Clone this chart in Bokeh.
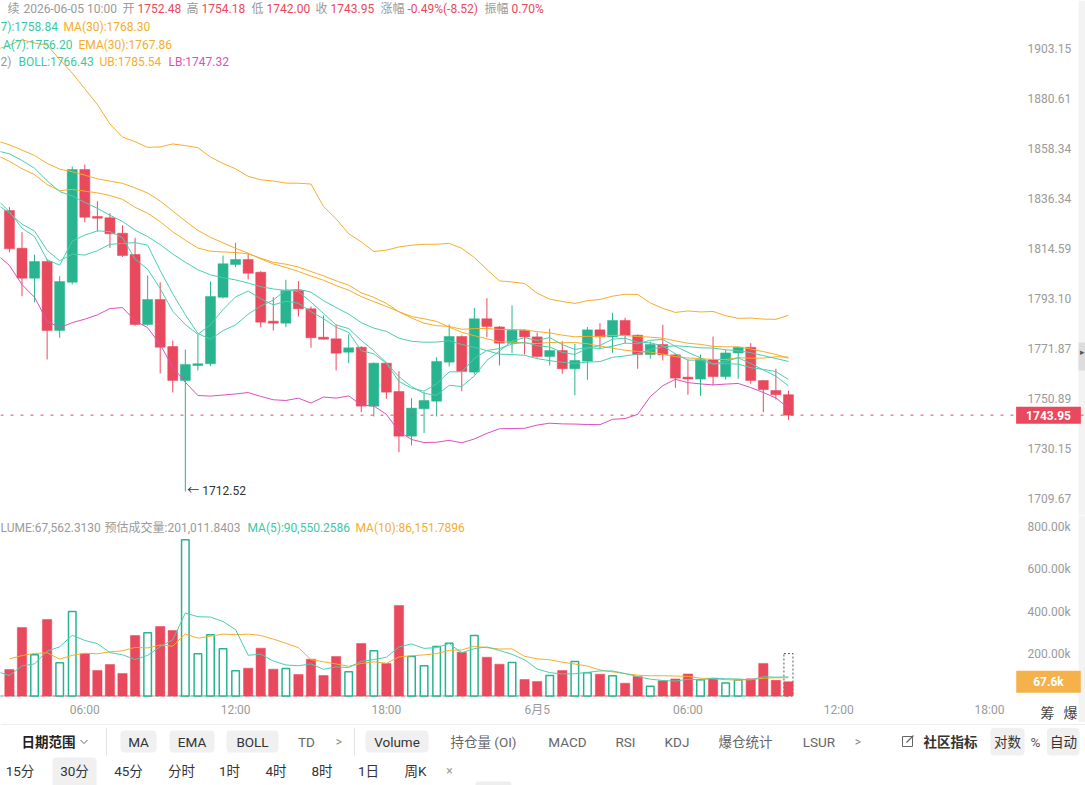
import numpy as np
import pandas as pd
from bokeh.plotting import figure
from bokeh.layouts import column
from bokeh.models import (Range1d, FixedTicker, NumeralTickFormatter, Label, Span,
                          ColumnDataSource, BoxAnnotation)
from bokeh.core.properties import value
from bokeh.embed import file_html
from bokeh.resources import INLINE

# ---------------------------------------------------------------- data
# ETH perpetual, 30-minute bars from 2026-06-04 03:00 to 2026-06-05 10:00
opens = [1831.12, 1814.72, 1801.83, 1809.00, 1779.51, 1800.11, 1849.10, 1828.51, 1827.94, 1821.24,
         1812.01, 1782.06, 1792.68, 1772.72, 1758.44, 1764.74, 1765.45, 1793.65, 1807.71, 1809.86,
         1804.40, 1783.46, 1782.61, 1796.54, 1788.73, 1776.66, 1775.98, 1770.32, 1772.42, 1747.70,
         1765.70, 1753.83, 1735.25, 1746.62, 1749.77, 1766.12, 1776.96, 1761.93, 1784.48, 1781.00,
         1774.13, 1779.62, 1776.79, 1768.51, 1771.03, 1763.35, 1766.54, 1779.77, 1776.78, 1783.76,
         1777.50, 1769.35, 1773.57, 1769.22, 1759.83, 1759.02, 1767.13, 1760.05, 1770.00, 1772.40,
         1758.40, 1754.25, 1752.48]
highs = [1832.56, 1821.68, 1812.01, 1810.00, 1802.68, 1850.42, 1851.30, 1835.17, 1829.95, 1824.60,
         1819.24, 1802.99, 1800.11, 1775.27, 1771.45, 1777.81, 1800.41, 1811.58, 1817.07, 1812.31,
         1804.80, 1793.65, 1801.14, 1800.54, 1789.70, 1785.88, 1782.06, 1777.81, 1772.80, 1766.00,
         1766.00, 1762.35, 1751.02, 1753.53, 1768.22, 1782.06, 1777.40, 1789.15, 1793.23, 1781.40,
         1790.13, 1780.02, 1778.62, 1780.23, 1774.97, 1773.86, 1781.00, 1782.61, 1787.03, 1784.91,
         1777.80, 1774.80, 1781.94, 1769.60, 1767.25, 1769.35, 1776.92, 1771.32, 1772.72, 1774.12,
         1758.60, 1763.35, 1754.18]
lows = [1813.00, 1794.09, 1791.53, 1767.25, 1776.41, 1799.12, 1826.03, 1821.99, 1814.89, 1811.00,
        1781.50, 1781.50, 1761.38, 1753.41, 1712.52, 1762.64, 1764.50, 1793.20, 1806.55, 1801.27,
        1780.91, 1779.51, 1780.91, 1785.46, 1772.17, 1775.70, 1762.64, 1765.70, 1745.21, 1743.42,
        1750.77, 1728.63, 1731.39, 1736.50, 1743.42, 1764.32, 1753.95, 1760.96, 1776.66, 1764.74,
        1769.90, 1769.35, 1767.97, 1764.74, 1761.25, 1752.25, 1758.74, 1771.74, 1770.07, 1773.95,
        1763.35, 1767.55, 1766.84, 1755.38, 1752.44, 1752.02, 1756.42, 1758.80, 1759.16, 1757.06,
        1745.21, 1750.48, 1742.00]
closes = [1814.46, 1801.83, 1809.00, 1779.51, 1800.41, 1849.10, 1828.21, 1827.77, 1820.98, 1811.58,
          1782.06, 1792.68, 1772.42, 1758.44, 1765.16, 1765.45, 1793.96, 1808.01, 1809.86, 1803.97,
          1783.04, 1782.61, 1796.54, 1788.73, 1776.41, 1775.81, 1769.90, 1772.17, 1747.70, 1765.70,
          1753.53, 1735.25, 1746.87, 1750.06, 1766.42, 1776.96, 1762.22, 1784.48, 1781.19, 1774.13,
          1779.62, 1776.79, 1768.51, 1771.03, 1763.35, 1766.84, 1779.77, 1776.78, 1783.76, 1777.50,
          1769.35, 1773.57, 1769.22, 1759.41, 1759.02, 1767.13, 1760.05, 1770.00, 1772.40, 1758.40,
          1754.60, 1752.48, 1743.95]
volumes = [125600, 324600, 195200, 362500, 157300, 400400, 200000, 120800, 149300, 106600,
           286700, 299500, 329400, 310400, 740200, 200000, 290000, 223700, 119400, 131700,
           226500, 127000, 130300, 101900, 174400, 97100, 187200, 114700, 248800, 214200,
           154000, 428900, 187200, 143100, 234600, 250200, 207600, 286700, 183900, 150700,
           158800, 78200, 68700, 97100, 120800, 163500, 109900, 103300, 95700, 60700,
           92400, 46400, 72000, 80900, 104600, 77600, 84400, 61267, 75300, 81200,
           154600, 74089, 67562.313]
estimated_volume = 201011.8403

# bars just before the window, needed to warm up the moving averages
earlier_closes = [1868, 1872, 1880, 1885, 1876, 1883, 1874, 1876, 1852, 1840,
                  1842, 1860, 1878, 1890, 1895, 1888, 1884, 1880, 1881, 1866,
                  1858, 1848, 1842, 1840, 1836, 1830, 1838, 1832, 1829, 1831]
earlier_volumes = [164600, 95000, 330000, 460000, 223000, 95000, 150000, 60000, 54500]

price_ticks = [1709.67, 1730.15, 1750.89, 1771.87, 1793.10, 1814.59, 1836.34, 1858.34, 1880.61, 1903.15]
volume_ticks = [200000, 400000, 600000, 800000]
time_ticks = [6, 12, 18, 24, 30, 36, 42]
time_labels = ["06:00", "12:00", "18:00", "6月5", "06:00", "12:00", "18:00"]

# ---------------------------------------------------------------- style
RED = "#E9495C"
GREEN = "#28B48F"
TEAL = "#4CCDB0"
TEAL_TXT = "#3CC8A5"
ORANGE = "#F5AD2A"
PINK = "#DD4FBE"
GRAY = "#9A9A9A"
DARK = "#333333"
CHIP = "#F0F0F0"
FONT = "Roboto, Noto Sans CJK SC, sans-serif"

W = 1085
H_PRICE, H_VOL, H_BAR = 515, 207, 63
PX_PER_HOUR = 25.13
LABEL_X = 1027          # left edge of the price / volume scale labels
TAG_X = 1048            # centre of the last-value tags

# ---------------------------------------------------------------- derived series
t0 = pd.Timestamp("2026-06-04 00:00")
bar_times = pd.date_range("2026-06-04 03:00", periods=len(closes), freq="30min")
early_times = pd.date_range(end=bar_times[0] - pd.Timedelta(minutes=30),
                            periods=len(earlier_closes), freq="30min")
hours = np.asarray((bar_times - t0) / pd.Timedelta(hours=1), dtype=float)
early_hours = np.asarray((early_times - t0) / pd.Timedelta(hours=1), dtype=float)
all_hours = np.concatenate([early_hours, hours])

c_all = pd.Series(earlier_closes + closes, dtype=float)
ma7 = c_all.rolling(7).mean()
ma30 = c_all.rolling(30).mean()
ema7 = c_all.ewm(span=7, adjust=False).mean()
ema30 = c_all.ewm(span=30, adjust=False).mean()
boll = c_all.rolling(20).mean()
sd = c_all.rolling(20).std(ddof=0)
ub = boll + 2 * sd
lb = boll - 2 * sd

v_all = pd.Series(earlier_volumes + volumes, dtype=float)
v_hours = all_hours[-len(v_all):]
vma5 = v_all.rolling(5).mean()
vma10 = v_all.rolling(10).mean()

o = np.array(opens); c = np.array(closes)
up = c >= o
candles = ColumnDataSource(dict(
    t=hours, high=highs, low=lows,
    top=np.maximum(o, c), bottom=np.minimum(o, c),
    color=[GREEN if u else RED for u in up],
))
vol_up = ColumnDataSource(dict(t=hours[up], v=np.array(volumes)[up]))
vol_dn = ColumnDataSource(dict(t=hours[~up], v=np.array(volumes)[~up]))

x_start = 2.645
x_range = Range1d(x_start, x_start + W / PX_PER_HOUR)


def label(fig, x, y, text, color, size="12px", bold=False, align="left", **kw):
    fig.add_layout(Label(x=x, y=y, x_units="screen", y_units="screen", text=text,
                         text_color=color, text_font=FONT, text_font_size=size,
                         text_font_style="bold" if bold else "normal",
                         text_align=align, text_baseline="middle", **kw))


def style_scale(axis):
    axis.axis_line_color = None
    axis.major_tick_line_color = None
    axis.minor_tick_line_color = None
    axis.major_tick_out = 0
    axis.major_tick_in = 0
    axis.minor_tick_out = 0
    axis.minor_tick_in = 0
    axis.major_label_text_color = GRAY
    axis.major_label_text_font = FONT
    axis.major_label_text_font_size = "12px"


def edge_strip(fig):
    fig.add_layout(BoxAnnotation(left=W - 7, right=W, left_units="screen", right_units="screen",
                                 fill_color="#F3F3F3", fill_alpha=1, line_color=None))


# ---------------------------------------------------------------- price panel
pp = figure(width=W, height=H_PRICE, x_range=x_range, y_range=Range1d(1702.74, 1925.11),
            y_axis_type="log", y_axis_location="right", x_axis_location=None,
            toolbar_location=None, output_backend="svg", min_border=0,
            outline_line_color=None, background_fill_color="white", border_fill_color="white")
pp.grid.visible = False
ya = pp.yaxis[0]
ya.ticker = FixedTicker(ticks=price_ticks)
ya.formatter = NumeralTickFormatter(format="0.00")
style_scale(ya)
ya.major_label_standoff = LABEL_X - W   # scale labels sit over the right margin of the pane

edge_strip(pp)
pp.add_layout(BoxAnnotation(left=W - 7, right=W, left_units="screen", right_units="screen",
                            top=H_PRICE - 342, bottom=H_PRICE - 370,
                            top_units="screen", bottom_units="screen",
                            fill_color="#DDDDDD", fill_alpha=1, line_color=None))
label(pp, W - 3.5, H_PRICE - 351, "▸", "#555555", size="9px", align="center")

pp.add_layout(Span(location=closes[-1], dimension="width", line_color=RED,
                   line_dash="3 7", line_width=1))

pp.segment(x0="t", y0="high", x1="t", y1="low", color="color", line_width=1, source=candles)
pp.vbar(x="t", top="top", bottom="bottom", width=0.4, fill_color="color",
        line_color="color", line_width=0.5, source=candles)

for series, col in [(ub, ORANGE), (lb, PINK), (ma30, ORANGE), (ema30, ORANGE),
                    (boll, TEAL), (ma7, TEAL), (ema7, TEAL)]:
    pp.line(all_hours, series.to_numpy(), line_color=col, line_width=1)

low_i = int(np.argmin(lows))
pp.add_layout(Label(x=hours[low_i], y=lows[low_i], x_offset=2, text=f"← {lows[low_i]:.2f}",
                    text_color=DARK, text_font=FONT, text_font_size="12px",
                    text_baseline="middle", text_align="left"))

# last price tag on the scale
pp.add_layout(Label(x=TAG_X, x_units="screen", y=closes[-1], y_units="data",
                    text=f"{closes[-1]:.2f}", text_color="white", text_font=FONT,
                    text_font_size="12px", text_font_style="bold", text_align="center",
                    text_baseline="middle", background_fill_color=RED, padding=(10, 4)))

# header lines
hdr = H_PRICE
label(pp, 7, hdr - 8, "续", GRAY)
label(pp, 23, hdr - 8, "2026-06-05 10:00", GRAY)
for x, txt, col in [(122, "开", GRAY), (137, f"{opens[-1]:.2f}", RED),
                    (186, "高", GRAY), (201, f"{highs[-1]:.2f}", RED),
                    (251, "低", GRAY), (266, f"{lows[-1]:.2f}", RED),
                    (315, "收", GRAY), (330, f"{closes[-1]:.2f}", RED),
                    (380, "涨幅", GRAY), (407, "-0.49%(-8.52)", RED),
                    (484, "振幅", GRAY), (511, "0.70%", RED)]:
    label(pp, x, hdr - 8, txt, col)
label(pp, 0, hdr - 26, "7):1758.84", TEAL_TXT)
label(pp, 63, hdr - 26, "MA(30):1768.30", ORANGE)
label(pp, 2.5, hdr - 44, "A(7):1756.20", TEAL_TXT)
label(pp, 78, hdr - 44, "EMA(30):1767.86", ORANGE)
label(pp, 0, hdr - 61, "2)", GRAY)
label(pp, 18, hdr - 61, "BOLL:1766.43", TEAL_TXT)
label(pp, 99, hdr - 61, "UB:1785.54", ORANGE)
label(pp, 168, hdr - 61, "LB:1747.32", PINK)

# ---------------------------------------------------------------- volume panel
# zero volume sits 26.5 px above the pane bottom, 4739 per pixel
pv = figure(width=W, height=H_VOL, x_range=x_range, y_range=Range1d(-125584, 855390),
            y_axis_location="right", toolbar_location=None, output_backend="svg",
            min_border=0, outline_line_color=None,
            background_fill_color="white", border_fill_color="white")
pv.grid.visible = False
va = pv.yaxis[0]
va.ticker = FixedTicker(ticks=volume_ticks)
va.formatter = NumeralTickFormatter(format="0.00a")
style_scale(va)
va.major_label_standoff = LABEL_X - W
xa = pv.xaxis[0]
xa.ticker = FixedTicker(ticks=time_ticks)
xa.major_label_overrides = dict(zip(time_ticks, time_labels))
style_scale(xa)
xa.major_label_standoff = -20   # time labels sit in the bottom strip of the pane

edge_strip(pv)

# zero line of the volume pane
pv.line([all_hours[0], hours[-1]], [0, 0], line_color=RED, line_dash="5 7", line_width=1)
pv.line([all_hours[0], hours[-1]], [0, 0], line_color=GREEN, line_dash="5 7",
        line_dash_offset=6, line_width=1)

pv.vbar(x=[hours[-1]], top=[estimated_volume], bottom=0, width=0.36, fill_color=None,
        line_color="#555555", line_dash="2 2", line_width=1)
pv.vbar(x="t", top="v", bottom=0, width=0.37, fill_color=RED, line_color=RED,
        line_width=0.5, source=vol_dn)
pv.vbar(x="t", top="v", bottom=0, width=0.30, fill_color="white", line_color=GREEN,
        line_width=1.5, source=vol_up)
pv.line(v_hours, vma10.to_numpy(), line_color=ORANGE, line_width=1)
pv.line(v_hours, vma5.to_numpy(), line_color=TEAL, line_width=1)

pv.add_layout(Label(x=TAG_X, x_units="screen", y=volumes[-1], y_units="data",
                    text=f"{volumes[-1] / 1000:.1f}k", text_color="white", text_font=FONT,
                    text_font_size="12px", text_font_style="bold", text_align="center",
                    text_baseline="middle", background_fill_color="#F5B24B", padding=(17, 4)))

vtop = H_VOL
label(pv, 0, vtop - 12, f"LUME:{volumes[-1]:,.4f}", GRAY)
label(pv, 104, vtop - 12, f"预估成交量:{estimated_volume:,.4f}", GRAY)
label(pv, 247, vtop - 12, "MA(5):90,550.2586", TEAL_TXT)
label(pv, 355, vtop - 12, "MA(10):86,151.7896", ORANGE)
label(pv, 1047, 10, "筹", "#444444", size="14px", align="center")
label(pv, 1070, 10, "爆", "#444444", size="14px", align="center")

# ---------------------------------------------------------------- indicator bar
ROW1, ROW2 = 741, 770.5
pt = figure(width=W, height=H_BAR, x_range=Range1d(0, W), y_range=Range1d(785, 722),
            x_axis_location=None, y_axis_location=None, toolbar_location=None,
            output_backend="svg", min_border=0, outline_line_color=None,
            background_fill_color="white", border_fill_color="white")
pt.grid.visible = False
pt.segment(x0=[0], y0=[724], x1=[W], y1=[724], line_color="#EDEDED", line_width=1)
pt.segment(x0=[106, 354], y0=[727, 727], x1=[106, 354], y1=[755, 755],
           line_color="#E3E3E3", line_width=1)
pt.quad(left=[120, 169, 226, 365, 990, 1046.5, 52], right=[156, 214, 278, 428, 1024, 1079, 96],
        top=[730, 730, 730, 730, 727.5, 727.5, 757], bottom=[752, 752, 752, 752, 755, 755, 792],
        fill_color=CHIP, line_color=None, border_radius=4)
pt.quad(left=[475], right=[511], top=[781], bottom=[790], fill_color="#EEEEEE", line_color=None,
        border_radius=3)
pt.line([80, 83.5, 87], [739.5, 743, 739.5], line_color="#666666", line_width=1)
pt.quad(left=[902], right=[912], top=[736], bottom=[746], fill_color=None,
        line_color="#666666", line_width=1)
pt.segment(x0=[906], y0=[742], x1=[913], y1=[735], line_color="#666666", line_width=1.2)


def bar_text(items, y, color, size="13.5px", bold=False):
    src = ColumnDataSource(dict(x=[i[0] for i in items], y=[y] * len(items),
                                text=[i[1] for i in items]))
    pt.text(x="x", y="y", text="text", source=src, text_color=color,
            text_font=value(FONT), text_font_size=size, text_align="center",
            text_baseline="middle", text_font_style="bold" if bold else "normal")


bar_text([(48, "日期范围")], ROW1, "#222222", bold=True)
bar_text([(138, "MA"), (191.5, "EMA"), (252, "BOLL"), (396.5, "Volume")], ROW1, DARK)
bar_text([(306, "TD"), (483, "持仓量 (OI)"), (567, "MACD"), (625, "RSI"), (676.5, "KDJ"),
          (745, "爆仓统计"), (818.5, "LSUR")], ROW1, "#666666")
bar_text([(338.5, ">"), (857.5, ">")], ROW1, "#888888", size="12px")
bar_text([(950, "社区指标")], ROW1, DARK, bold=True)
bar_text([(1007, "对数"), (1063, "自动")], ROW1, DARK)
bar_text([(1035, "%")], ROW1, "#555555")
bar_text([(19.5, "15分"), (74, "30分"), (128, "45分"), (181, "分时"), (229, "1时"),
          (275.5, "4时"), (321.5, "8时"), (368, "1日"), (415, "周K")], ROW2, DARK)
bar_text([(449, "×")], ROW2, "#999999", size="12px")

layout = column(pp, pv, pt, spacing=0)
open("out.html", "w").write(file_html(layout, INLINE))
